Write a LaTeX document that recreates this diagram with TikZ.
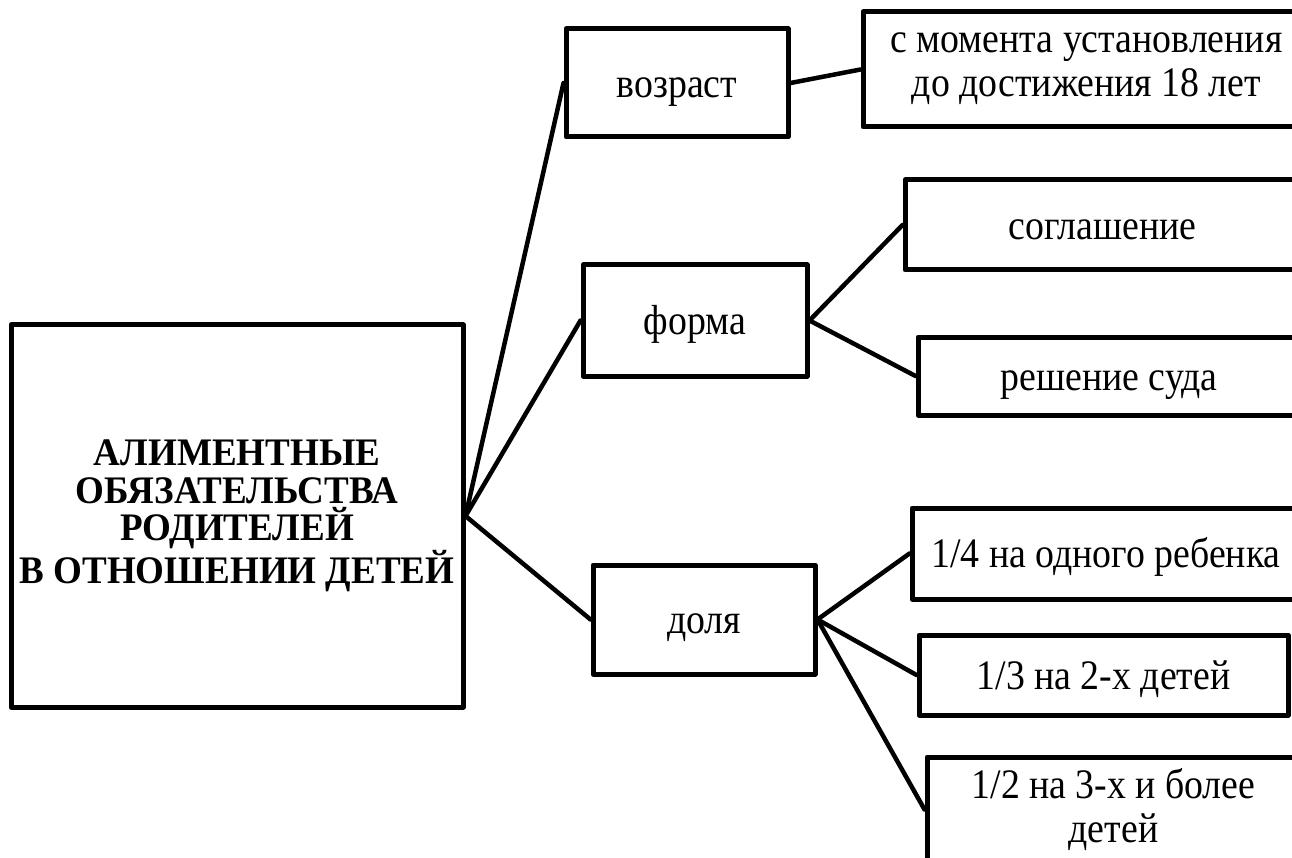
\documentclass[tikz,border=0pt]{standalone}
\usepackage{fontspec}
\setmainfont{Liberation Serif}[FakeStretch=0.9]
\newfontfamily\headfont{Liberation Serif}[FakeStretch=0.95]

\newcommand\wstrut{\rule[-0.216em]{0pt}{1.107em}}

\begin{document}
\begin{tikzpicture}[x=1pt, y=-1pt,
    box/.style={draw, line width=5pt, line join=round, inner sep=0pt, align=center,
        font=\fontsize{42}{44}\selectfont,
        execute at begin node=\wstrut, execute at end node=\wstrut},
    link/.style={line width=4.5pt, line cap=round}]

    \useasboundingbox (0, 0) rectangle (1292, 858);
    \clip (0, 0) rectangle (1292, 858);

    \node[box, minimum width=452pt, minimum height=382pt,
        font=\headfont\bfseries\fontsize{39}{37.5}\selectfont] (alim) at (237, 516)
        {АЛИМЕНТНЫЕ\\ОБЯЗАТЕЛЬСТВА\\РОДИТЕЛЕЙ\\В ОТНОШЕНИИ ДЕТЕЙ};

    \node[box, minimum width=222pt, minimum height=108pt] (vozrast) at (677, 83) {возраст};
    \node[box, minimum width=224pt, minimum height=111pt] (forma) at (695, 320.5) {форма};
    \node[box, minimum width=222pt, minimum height=109pt] (dolya) at (704, 619.5) {доля};

    \node[box, minimum width=447pt, minimum height=115pt] (moment) at (1086.5, 69.5)
        {с момента установления\\до достижения 18 лет};

    \node[box, minimum width=395pt, minimum height=90pt] (soglash) at (1102.5, 225) {соглашение};
    \node[box, minimum width=382pt, minimum height=78pt] (reshenie) at (1109, 376) {решение суда};

    \node[box, minimum width=388pt, minimum height=91pt] (quarter) at (1106, 553.5) {1/4 на одного ребенка};
    \node[box, minimum width=369pt, minimum height=80pt] (third) at (1103.5, 675) {1/3 на 2-х детей};
    \node[box, minimum width=373pt, minimum height=105pt] (half) at (1113.5, 809.5)
        {1/2 на 3-х и более\\детей};

    \foreach \b in {vozrast, forma, dolya}
        \draw[link] (alim.east) -- (\b.west);
    \draw[link] (vozrast.east) -- (moment.west);
    \foreach \b in {soglash, reshenie}
        \draw[link] (forma.east) -- (\b.west);
    \foreach \b in {quarter, third, half}
        \draw[link] (dolya.east) -- (\b.west);
\end{tikzpicture}
\end{document}
